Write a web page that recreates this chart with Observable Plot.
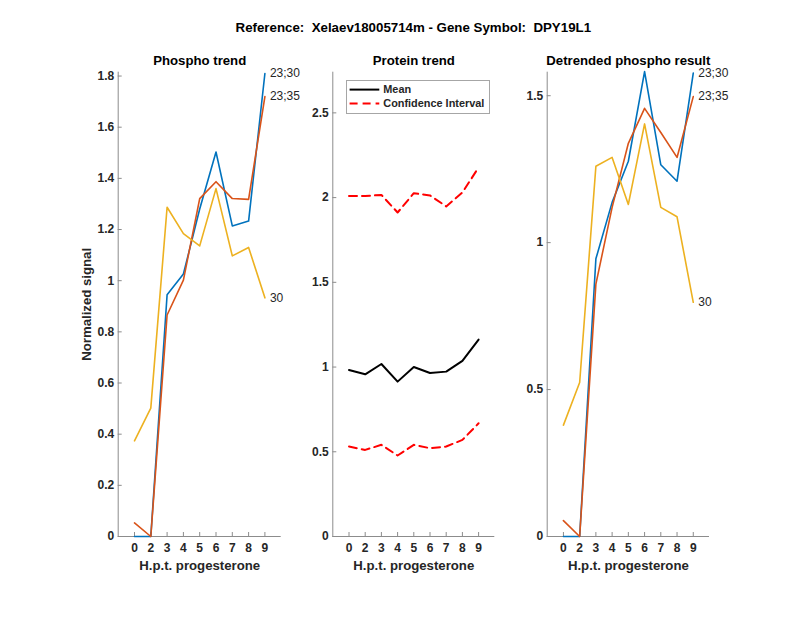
<!DOCTYPE html>
<html><head><meta charset="utf-8">
<script src="https://cdn.jsdelivr.net/npm/d3@7"></script>
<script src="https://cdn.jsdelivr.net/npm/@observablehq/plot@0.6"></script>
<style>
body{margin:0;background:#fff;font-family:"Liberation Sans",Arial,sans-serif;}
#wrap{position:relative;width:800px;height:618px;overflow:hidden;background:#fff;}
.panel{position:absolute;top:0;}
.panel svg{display:block;}
.panel g[aria-label$="tick label"]{font-weight:bold;font-size:12px;}
#title{position:absolute;top:19.5px;left:413.3px;transform:translateX(-50%);white-space:nowrap;font-weight:bold;font-size:13.3px;line-height:16px;color:#000;}
#legend{position:absolute;left:345.7px;top:79.7px;}
</style></head><body>
<div id="wrap"><div id="title">Reference:&nbsp; Xelaev18005714m - Gene Symbol:&nbsp; DPY19L1</div></div>
<script>
// ---- data ----
const hours = ["0","2","3","4","5","6","7","8","9"];
const sites = ["23;30","23;35","30"];
const siteColors = ["#0072BD","#D95319","#EDB120"];

const phospho_23_30 = [0, 0, 0.945, 1.026, 1.28, 1.503, 1.214, 1.233, 1.81];
const phospho_23_35 = [0.053, 0, 0.866, 1.002, 1.321, 1.387, 1.321, 1.318, 1.72];
const phospho_30    = [0.374, 0.502, 1.287, 1.184, 1.136, 1.36, 1.097, 1.130, 0.933];

const protein_mean     = [0.983, 0.957, 1.018, 0.914, 1.0, 0.965, 0.973, 1.036, 1.162];
const protein_ci_upper = [2.009, 2.009, 2.016, 1.912, 2.026, 2.013, 1.948, 2.03, 2.178];
const protein_ci_lower = [0.531, 0.511, 0.541, 0.478, 0.541, 0.521, 0.531, 0.57, 0.668];

const detrended_23_30 = [0, 0, 0.945, 1.137, 1.277, 1.582, 1.265, 1.209, 1.577];
const detrended_23_35 = [0.054, 0, 0.859, 1.12, 1.338, 1.457, 1.375, 1.29, 1.497];
const detrended_30    = [0.379, 0.524, 1.26, 1.29, 1.13, 1.404, 1.12, 1.088, 0.797];

const phosphoTicks   = [0, 0.2, 0.4, 0.6, 0.8, 1, 1.2, 1.4, 1.6, 1.8];
const proteinTicks   = [0, 0.5, 1, 1.5, 2, 2.5];
const detrendedTicks = [0, 0.5, 1, 1.5];

// ---- build tables ----
const xPos = hours.map((h, i) => i + 1);
const long = (series) => sites.flatMap((s, k) => series[k].map((v, i) => ({site: s, x: i + 1, y: v})));
const lastPts = (series) => sites.map((s, k) => ({site: s, x: series[k].length, y: series[k][series[k].length - 1]}));
const single = (arr) => arr.map((v, i) => ({x: i + 1, y: v}));

const phosphoSeries = [phospho_23_30, phospho_23_35, phospho_30];
const detrendedSeries = [detrended_23_30, detrended_23_35, detrended_30];

const axisColor = "#8c8c8c";
const textColor = "#262626";
const FONT = "Liberation Sans, Arial, sans-serif";

function panel({left, width, mL, mR, yMax, yTicks, title, marks, ylabel}) {
  const extra = [];
  if (ylabel) extra.push(Plot.text([ylabel], {text: d => d, frameAnchor: "left", dx: -31.4, rotate: -90,
    fontSize: 13.2, fontWeight: "bold", fill: textColor, textAnchor: "middle", lineAnchor: "middle"}));
  const chart = Plot.plot({
    width, height: 600,
    marginLeft: mL, marginRight: mR, marginTop: 71.7, marginBottom: 64,
    style: {background: "transparent", overflow: "visible", fontFamily: FONT, color: textColor},
    x: {domain: [0, 10], label: null},
    y: {domain: [0, yMax], label: null},
    color: {domain: sites, range: siteColors},
    marks: [
      Plot.ruleY([0], {stroke: axisColor, strokeWidth: 1}),
      Plot.ruleX([0], {stroke: axisColor, strokeWidth: 1}),
      Plot.axisX(xPos, {tickFormat: d => hours[d - 1], tickSize: -4, tickPadding: 11, fontSize: 12, fontWeight: "bold", stroke: axisColor, fill: textColor, label: null}),
      Plot.axisY(yTicks, {tickFormat: d3.format("~g"), tickSize: -4, tickPadding: 8, fontSize: 12, fontWeight: "bold", stroke: axisColor, fill: textColor, label: null}),
      ...marks,
      Plot.text([title], {text: d => d, frameAnchor: "top", dy: -11.2, fontSize: 13.2, fontWeight: "bold", fill: "#000", lineAnchor: "middle"}),
      Plot.text(["H.p.t. progesterone"], {text: d => d, frameAnchor: "bottom", dy: 29.7, fontSize: 13.2, fontWeight: "bold", fill: textColor, lineAnchor: "middle"}),
      ...extra
    ]
  });
  const div = document.createElement("div");
  div.className = "panel";
  div.style.left = left + "px";
  div.style.width = width + "px";
  div.appendChild(chart);
  document.getElementById("wrap").appendChild(div);
}

// Panel 1: Phospho trend
panel({
  left: 0, width: 320, mL: 117.7, mR: 39.3, yMax: 1.815, yTicks: phosphoTicks,
  title: "Phospho trend", ylabel: "Normalized signal",
  marks: [
    Plot.line(long(phosphoSeries), {x: "x", y: "y", z: "site", stroke: "site", strokeWidth: 1.6}),
    Plot.text(lastPts(phosphoSeries), {x: "x", y: "y", text: "site", dx: 5, textAnchor: "start", fontSize: 12, fill: textColor})
  ]
});

// Panel 2: Protein trend
panel({
  left: 300, width: 220, mL: 32.3, mR: 25.7, yMax: 2.74, yTicks: proteinTicks,
  title: "Protein trend",
  marks: [
    Plot.line(single(protein_ci_upper), {x: "x", y: "y", stroke: "#ff0000", strokeWidth: 2, strokeDasharray: "8,5"}),
    Plot.line(single(protein_ci_lower), {x: "x", y: "y", stroke: "#ff0000", strokeWidth: 2, strokeDasharray: "8,5"}),
    Plot.line(single(protein_mean), {x: "x", y: "y", stroke: "#000", strokeWidth: 2})
  ]
});

// Panel 3: Detrended phospho result
panel({
  left: 510, width: 290, mL: 36.7, mR: 91, yMax: 1.58, yTicks: detrendedTicks,
  title: "Detrended phospho result",
  marks: [
    Plot.line(long(detrendedSeries), {x: "x", y: "y", z: "site", stroke: "site", strokeWidth: 1.6}),
    Plot.text(lastPts(detrendedSeries), {x: "x", y: "y", text: "site", dx: 5, textAnchor: "start", fontSize: 12, fill: textColor})
  ]
});

// Legend (middle panel)
const legendItems = [
  {label: "Mean", stroke: "#000", dash: null},
  {label: "Confidence Interval", stroke: "#ff0000", dash: "8,5"}
];
const ns = "http://www.w3.org/2000/svg";
const lg = document.createElementNS(ns, "svg");
lg.setAttribute("id", "legend");
lg.setAttribute("width", 144);
lg.setAttribute("height", 34);
lg.style.position = "absolute";
lg.style.left = "345.7px";
lg.style.top = "79.7px";
const rect = document.createElementNS(ns, "rect");
rect.setAttribute("x", 0.5); rect.setAttribute("y", 0.5);
rect.setAttribute("width", 143); rect.setAttribute("height", 33);
rect.setAttribute("fill", "#fff"); rect.setAttribute("stroke", "#a6a6a6"); rect.setAttribute("stroke-width", 1);
lg.appendChild(rect);
legendItems.forEach((it, i) => {
  const yy = 9.6 + i * 14;
  const ln = document.createElementNS(ns, "line");
  ln.setAttribute("x1", 3.6); ln.setAttribute("x2", 33.3);
  ln.setAttribute("y1", yy); ln.setAttribute("y2", yy);
  ln.setAttribute("stroke", it.stroke); ln.setAttribute("stroke-width", 2);
  if (it.dash) ln.setAttribute("stroke-dasharray", it.dash);
  lg.appendChild(ln);
  const t = document.createElementNS(ns, "text");
  t.setAttribute("x", 37.3); t.setAttribute("y", yy);
  t.setAttribute("dy", "0.35em");
  t.setAttribute("font-family", FONT); t.setAttribute("font-size", 10.9);
  t.setAttribute("font-weight", "bold"); t.setAttribute("fill", textColor);
  t.textContent = it.label;
  lg.appendChild(t);
});
document.getElementById("wrap").appendChild(lg);
</script>
</body></html>
